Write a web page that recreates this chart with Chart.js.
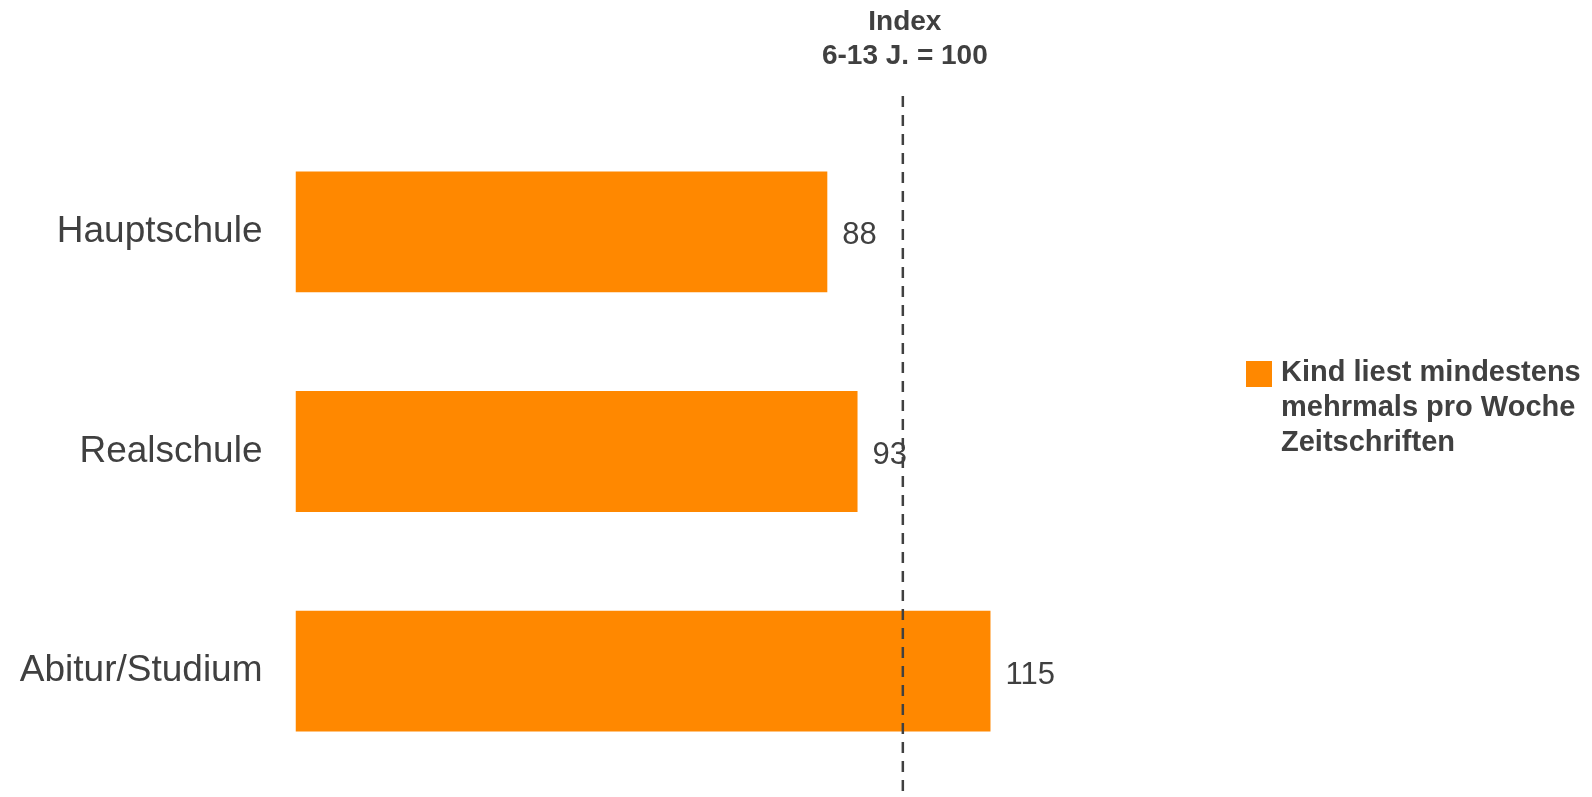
<!DOCTYPE html>
<html>
<head>
<meta charset="utf-8">
<script src="https://cdn.jsdelivr.net/npm/chart.js@4"></script>
<style>
  html, body { margin: 0; padding: 0; background: #fff; }
  canvas { display: block; }
</style>
</head>
<body>
<canvas id="bars" width="1592" height="797"></canvas>
<script>
var categories = ["Hauptschule", "Realschule", "Abitur/Studium"];
var values = [88, 93, 115];
var indexValue = 100;
var titleLines = ["Index", "6-13 J. = 100"];
var legendLines = ["Kind liest mindestens", "mehrmals pro Woche", "Zeitschriften"];

var textColor = "#404040";
var barColor = "#ff8800";
var fontFamily = "'Liberation Sans', Arial, sans-serif";

// value labels, index line, header and legend
var extras = {
  id: "extras",
  afterDatasetsDraw: function (chart) {
    var ctx = chart.ctx;
    var meta = chart.getDatasetMeta(0);
    ctx.save();
    ctx.fillStyle = textColor;
    ctx.font = "31px " + fontFamily;
    ctx.textAlign = "left";
    ctx.textBaseline = "middle";
    meta.data.forEach(function (bar, i) {
      ctx.fillText(values[i], bar.x + 15, bar.y + 4);
    });

    // line sits a touch right of the 100 mark in the original
    var lx = chart.scales.x.getPixelForValue(indexValue) + 3;
    ctx.strokeStyle = textColor;
    ctx.lineWidth = 2.5;
    ctx.setLineDash([11, 8]);
    ctx.beginPath();
    ctx.moveTo(lx, 96);
    ctx.lineTo(lx, chart.height);
    ctx.stroke();
    ctx.setLineDash([]);

    ctx.font = "bold 28px " + fontFamily;
    ctx.textAlign = "center";
    titleLines.forEach(function (t, i) {
      ctx.fillText(t, lx + 2, 22 + i * 34);
    });

    ctx.fillStyle = barColor;
    ctx.fillRect(1246, 361, 26, 26);
    ctx.fillStyle = textColor;
    ctx.font = "bold 29px " + fontFamily;
    ctx.textAlign = "left";
    legendLines.forEach(function (t, i) {
      ctx.fillText(t, 1281, 373 + i * 35);
    });
    ctx.restore();
  }
};

new Chart(document.getElementById("bars").getContext("2d"), {
  type: "bar",
  data: {
    labels: categories,
    datasets: [
      {
        data: values,
        backgroundColor: barColor,
        borderWidth: 0,
        barPercentage: 0.55,
        categoryPercentage: 1
      }
    ]
  },
  options: {
    indexAxis: "y",
    responsive: false,
    animation: false,
    layout: { padding: { top: 122, bottom: 16, left: 0, right: 390 } },
    plugins: {
      legend: { display: false },
      title: { display: false },
      tooltip: { enabled: false }
    },
    scales: {
      x: { display: false, min: 0, max: 150 },
      y: {
        grid: { display: false, drawTicks: false },
        border: { display: false },
        ticks: {
          color: textColor,
          padding: 33,
          font: { family: fontFamily, size: 37 }
        },
        afterFit: function (scale) {
          scale.width = 295.5;
          scale.paddingTop = 0;
          scale.paddingBottom = 0;
        }
      }
    }
  },
  plugins: [extras]
});
</script>
</body>
</html>
